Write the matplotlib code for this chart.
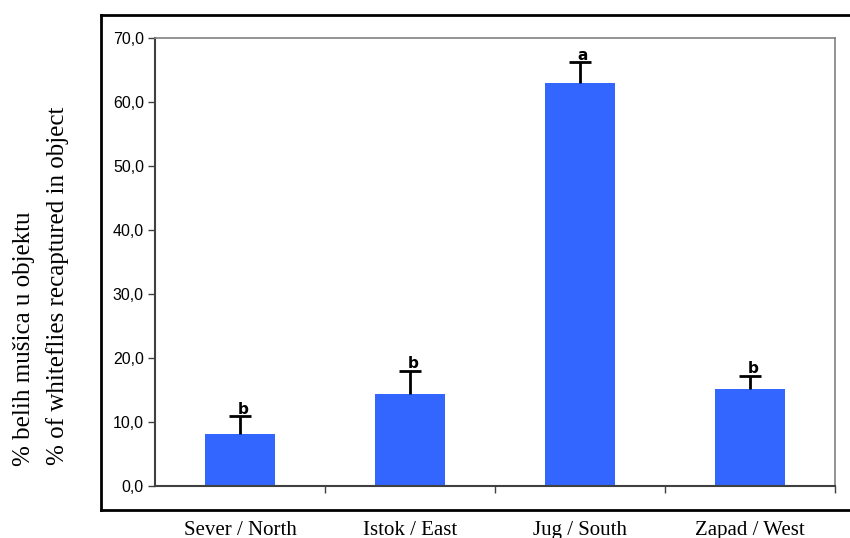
import matplotlib
matplotlib.use("Agg")
import matplotlib.pyplot as plt
from matplotlib.lines import Line2D
from matplotlib.ticker import FuncFormatter, FixedLocator
import numpy as np

categories = ["Sever / North", "Istok / East", "Jug / South", "Zapad / West"]
values = [8.1, 14.3, 63.0, 15.1]
err_upper = [2.8, 3.7, 3.2, 2.1]
letters = ["b", "b", "a", "b"]
ylabel_lines = ["% belih mušica u objektu", "% of whiteflies recaptured in object"]

fig = plt.figure(figsize=(8.5, 5.38), dpi=100)
ax = fig.add_axes([155/850, 52/538, 680/850, 448/538])

x = np.arange(len(categories))
ax.bar(x, values, width=0.41, color="#3366FF", edgecolor="none", zorder=2)
ax.errorbar(x, values, yerr=[np.zeros(len(values)), err_upper], fmt="none",
            ecolor="black", elinewidth=2, capsize=0, zorder=3)
tops = np.array(values) + np.array(err_upper)
ax.plot(x, tops, linestyle="none", marker="_", markersize=16, markeredgewidth=2,
        color="black", zorder=3)
for xi, t, lab in zip(x, tops, letters):
    ax.annotate(lab, (xi, t), xytext=(2, 5), textcoords="offset points",
                ha="center", va="center", fontsize=11, fontweight="bold",
                family="Liberation Sans Narrow", zorder=4)

ax.set_xlim(-0.5, 3.5)
ax.set_ylim(0, 70)
ax.set_yticks(np.arange(0, 71, 10))
ax.yaxis.set_major_formatter(FuncFormatter(lambda v, p: f"{v:.1f}".replace(".", ",")))
for lbl in ax.get_yticklabels():
    lbl.set_family("Liberation Sans")
    lbl.set_fontsize(11.5)
ax.tick_params(axis="y", direction="out", length=5, width=1, color="#404040", pad=3)

ax.set_xticks(x)
ax.set_xticklabels(categories, family="Liberation Serif", fontsize=15)
ax.tick_params(axis="x", which="major", length=0, pad=25)
ax.xaxis.set_minor_locator(FixedLocator([0.5, 1.5, 2.5, 3.5]))
ax.tick_params(axis="x", which="minor", direction="out", length=5, width=1, color="#404040")

for s in ["left", "bottom"]:
    ax.spines[s].set_color("#404040")
    ax.spines[s].set_linewidth(1.5)
for s in ["top", "right"]:
    ax.spines[s].set_color("#808080")
    ax.spines[s].set_linewidth(1.2)

# outer frame
W, H = 850, 538
def fx(px): return px / W
def fy(py): return 1 - py / H
lw = 2
fig.add_artist(Line2D([fx(101), fx(101)], [fy(15), fy(510)], color="black", lw=lw))
fig.add_artist(Line2D([fx(101), fx(850)], [fy(15), fy(15)], color="black", lw=lw))
fig.add_artist(Line2D([fx(101), fx(850)], [fy(510), fy(510)], color="black", lw=lw))

fig.text(fx(24), fy(339), ylabel_lines[0], rotation=90, ha="center", va="center",
         family="Liberation Serif", fontsize=18)
fig.text(fx(58), fy(286), ylabel_lines[1], rotation=90, ha="center", va="center",
         family="Liberation Serif", fontsize=18)

fig.savefig("out.png", dpi=100)
